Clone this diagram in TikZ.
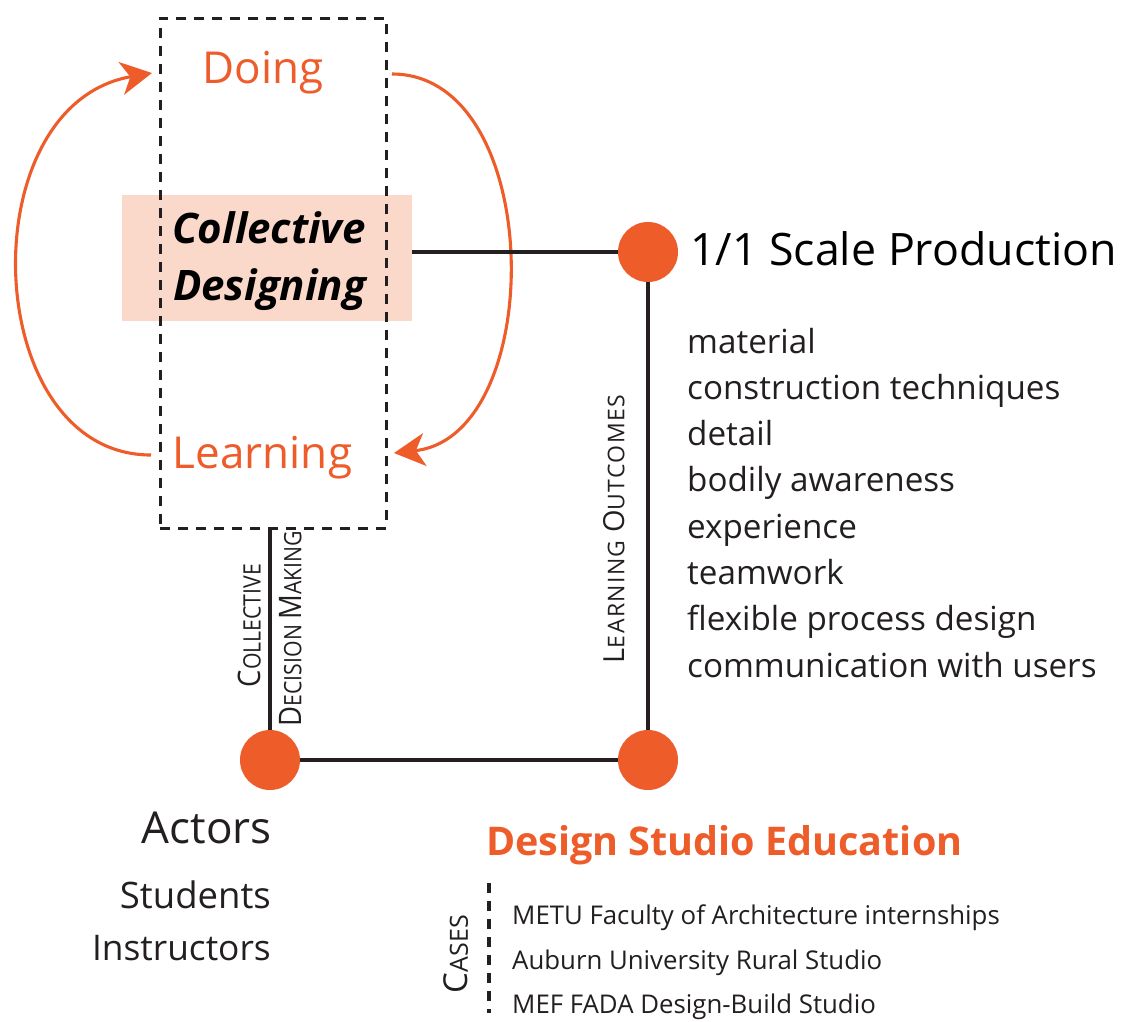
\documentclass[tikz,border=0pt]{standalone}
\usepackage{fontspec}
\setmainfont{Open Sans}
\usetikzlibrary{arrows.meta}
\definecolor{accent}{RGB}{238,92,42}
\definecolor{blush}{RGB}{251,217,202}
\definecolor{ink}{RGB}{35,31,32}
\newcommand\fs[1]{\fontsize{#1}{#1}\selectfont}
% fake small caps: size of initial, size of the rest, initial, rest
\newcommand\smallcapword[4]{{\fs{#1}#3}{\fs{#2}#4}}
\begin{document}
\begin{tikzpicture}[x=1pt,y=-1pt,
  txt/.style={inner sep=0pt, text=ink},
  hub/.style={circle, fill=accent, minimum size=60pt, inner sep=0pt},
  link/.style={draw=ink, line width=3.4pt},
  loop/.style={draw=accent, line width=3.1pt, -{Stealth[length=31pt,width=33pt,inset=9pt]}},
  frame/.style={draw=ink, line width=3.8pt, dash pattern=on 10pt off 8pt}]
\useasboundingbox[fill=white] (0,0) rectangle (1132,1021);

% shaded core and the dashed group around it
\node[fill=blush, minimum width=290pt, minimum height=126pt, inner sep=0pt] (cd) at (267,257.5) {};
\node[frame, minimum width=226pt, minimum height=510pt, inner sep=0pt, anchor=north west] (grp) at (158.5,16.5) {};
\node[txt, text=black, font=\fs{42}\bfseries\itshape, anchor=base] (cdA) at (269,243) {Collective};
\node[txt, text=black, font=\fs{42}\bfseries\itshape, anchor=base] (cdB) at (269.5,300) {Designing};

% cycle
\node[txt, text=accent, font=\fs{44}, anchor=base] (doing) at (263,83) {Doing};
\node[txt, text=accent, font=\fs{44}, anchor=base] (learning) at (262.5,468) {Learning};
\coordinate (dIn) at (152,73);
\coordinate (dOut) at (392,74);
\coordinate (lIn) at (394,453);
\coordinate (lOut) at (151,455);
\draw[loop] (lOut) .. controls (-20,455) and (-32,105) .. (dIn);
\draw[loop] (dOut) .. controls (546,74) and (548,436) .. (lIn);

% hubs
\node[hub] (prod) at (648,252) {};
\node[hub] (act) at (270,760) {};
\node[hub] (edu) at (648,760) {};

% connectors
\draw[link] (cd.east |- prod) -- (prod);
\draw[link] (prod) -- (edu);
\draw[link] (act) -- (edu);
\draw[link] (act |- grp.south) -- (act);

% connector labels
\node[txt, rotate=90, font=\fs{24}] (cdm1) at (249.5,625.5) {\scalebox{0.885}[1]{\smallcapword{31}{24}{C}{OLLECTIVE}}};
\node[txt, rotate=90, font=\fs{24}] (cdm2) at (290.5,628.5) {\scalebox{0.885}[1]{\smallcapword{31}{24}{D}{ECISION} \smallcapword{31}{24}{M}{AKING}}};
\node[txt, rotate=90, font=\fs{23}\addfontfeature{LetterSpace=6}] (lo) at (614,529) {\addfontfeature{LetterSpace=6}\smallcapword{29}{23}{L}{EARNING} \smallcapword{29}{23}{O}{UTCOMES}};

% production side
\node[txt, text=black, font=\fs{44.7}, anchor=base west] (prodT) at (690,265) {1/1 Scale Production};
\foreach \t [count=\i from 0] in {material, construction techniques, detail, bodily awareness, experience, teamwork, flexible process design, communication with users}
  \node[txt, font=\fs{33.2}, anchor=base west] (out\i) at (687,353+46.3*\i) {\t};

% actors
\node[txt, font=\fs{44}, anchor=base east] (actT) at (272,843) {Actors};
\node[txt, font=\fs{36.5}, anchor=base east] (stud) at (271,908) {Students};
\node[txt, font=\fs{35.3}, anchor=base east] (inst) at (271,960) {Instructors};

% studio education and cases
\node[txt, text=accent, font=\fs{39.5}\bfseries, anchor=base west] (eduT) at (486,855) {Design Studio Education};
\coordinate (casesTop) at (489,883);
\coordinate (casesBot) at (489,1013);
\draw[frame] (casesTop) -- (casesBot);
\node[txt, rotate=90, font=\fs{25}] (cases) at (456,954) {\smallcapword{33}{25}{C}{ASES}};
\node[txt, font=\fs{25.8}, anchor=base west] (case1) at (512,924) {METU Faculty of Architecture internships};
\node[txt, font=\fs{25.8}, anchor=base west] (case2) at (512,969) {Auburn University Rural Studio};
\node[txt, font=\fs{25.8}, anchor=base west] (case3) at (512,1013) {MEF FADA Design-Build Studio};
\end{tikzpicture}
\end{document}
